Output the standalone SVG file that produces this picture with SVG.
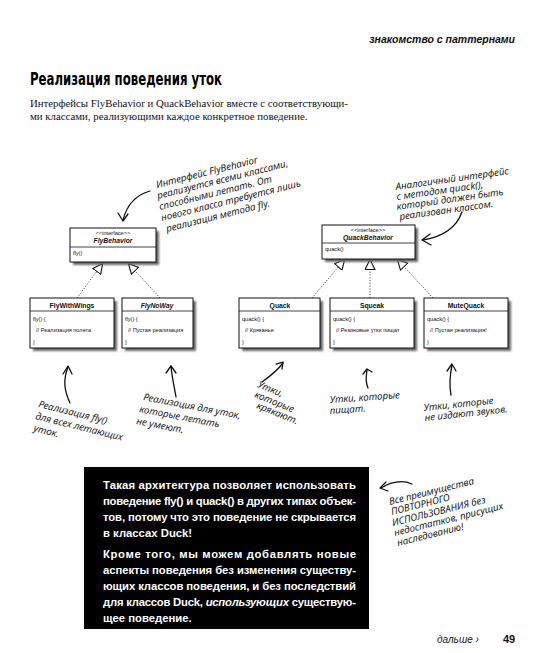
<svg xmlns="http://www.w3.org/2000/svg" width="544" height="653" viewBox="0 0 544 653">
<defs>
<style>
.box{fill:#fff;stroke:#111;stroke-width:1}
.shd{fill:#666;filter:url(#bl)}
.uml{font-family:"Liberation Sans",Arial,sans-serif;font-size:5.6px;fill:#111}
.ttl{font-family:"Liberation Sans",Arial,sans-serif;font-size:6.8px;font-weight:bold;fill:#111}
.ital{font-style:italic}
.hand{font-family:"Noto Sans",sans-serif;font-style:italic;font-size:9.7px;fill:#1a1a1a}
.conn{stroke:#222;stroke-width:0.8;stroke-dasharray:1.2 1.6;fill:none}
.ann{stroke:#111;stroke-width:1.3;fill:none;stroke-linecap:round;stroke-linejoin:round}
.wt{font-family:"Liberation Sans",Arial,sans-serif;font-size:11.3px;font-weight:bold;fill:#fff}
.intro{font-family:"Liberation Serif","DejaVu Serif",serif;font-size:10.8px;fill:#111}
.ttlmain{font-family:"DejaVu Sans",sans-serif;font-size:17px;font-weight:bold;fill:#000}
</style>
<filter id="bl" x="-20%" y="-20%" width="140%" height="140%"><feGaussianBlur stdDeviation="1"/></filter>
<marker id="tri" markerUnits="userSpaceOnUse" markerWidth="11" markerHeight="11" viewBox="0 0 10 10" refX="10" refY="5" orient="auto">
<path d="M0.5,0.5 L9.5,5 L0.5,9.5 z" fill="#fff" stroke="#111" stroke-width="1"/>
</marker>
</defs>
<rect width="544" height="653" fill="#fff"/>

<g id="header">
<text x="515" y="43" text-anchor="end" font-family="'Liberation Sans',Arial,sans-serif" font-size="10.5" font-weight="bold" font-style="italic" fill="#111">знакомство с паттернами</text>
<text class="ttlmain" x="30" y="85" textLength="192" lengthAdjust="spacingAndGlyphs">Реализация поведения уток</text>
<text class="intro"><tspan x="30" y="107">Интерфейсы FlyBehavior и QuackBehavior вместе с соответствующи-</tspan><tspan x="30" y="120">ми классами, реализующими каждое конкретное поведение.</tspan></text>
</g>

<g id="connectors">
<path class="conn" d="M77,298 L103,263" marker-end="url(#tri)"/>
<path class="conn" d="M160,298 L128,263" marker-end="url(#tri)"/>
<path class="conn" d="M312,298 L345,259" marker-end="url(#tri)"/>
<path class="conn" d="M370,298 L370,259" marker-end="url(#tri)"/>
<path class="conn" d="M433,298 L397,259" marker-end="url(#tri)"/>
</g>

<g id="FlyBehavior">
<rect class="shd" x="73" y="231" width="86" height="34"/>
<rect class="box" x="70" y="228" width="86" height="34"/>
<line x1="70" y1="247" x2="156" y2="247" stroke="#111" stroke-width="0.8"/>
<text class="uml" x="113" y="235" text-anchor="middle">&lt;&lt;interface&gt;&gt;</text>
<text class="ttl ital" x="113" y="243" text-anchor="middle">FlyBehavior</text>
<text class="uml" x="73" y="255">fly()</text>
</g>

<g id="QuackBehavior">
<rect class="shd" x="325" y="228" width="93" height="34"/>
<rect class="box" x="322" y="225" width="93" height="34"/>
<line x1="322" y1="243" x2="415" y2="243" stroke="#111" stroke-width="0.8"/>
<text class="uml" x="368" y="232" text-anchor="middle">&lt;&lt;interface&gt;&gt;</text>
<text class="ttl ital" x="368" y="240" text-anchor="middle">QuackBehavior</text>
<text class="uml" x="325" y="251">quack()</text>
</g>

<g id="FlyWithWings">
<rect class="shd" x="33" y="301" width="84" height="50"/>
<rect class="box" x="30" y="298" width="84" height="50"/>
<line x1="30" y1="311" x2="114" y2="311" stroke="#111" stroke-width="0.8"/>
<text class="ttl" x="72" y="307.5" text-anchor="middle">FlyWithWings</text>
<text class="uml" x="33" y="321">fly() {</text>
<text class="uml" x="36" y="332">// Реализация полета</text>
<text class="uml" x="33" y="344">}</text>
</g>

<g id="FlyNoWay">
<rect class="shd" x="125" y="301" width="71" height="50"/>
<rect class="box" x="122" y="298" width="71" height="50"/>
<line x1="122" y1="311" x2="193" y2="311" stroke="#111" stroke-width="0.8"/>
<text class="ttl ital" x="157" y="307.5" text-anchor="middle">FlyNoWay</text>
<text class="uml" x="125" y="321">fly() {</text>
<text class="uml" x="128" y="332">// Пустая реализация</text>
<text class="uml" x="125" y="344">}</text>
</g>

<g id="Quack">
<rect class="shd" x="242" y="301" width="81" height="50"/>
<rect class="box" x="239" y="298" width="81" height="50"/>
<line x1="239" y1="311" x2="320" y2="311" stroke="#111" stroke-width="0.8"/>
<text class="ttl" x="280" y="307.5" text-anchor="middle">Quack</text>
<text class="uml" x="242" y="321">quack() {</text>
<text class="uml" x="245" y="332">// Кряканье</text>
<text class="uml" x="242" y="344">}</text>
</g>

<g id="Squeak">
<rect class="shd" x="333" y="301" width="84" height="50"/>
<rect class="box" x="330" y="298" width="84" height="50"/>
<line x1="330" y1="311" x2="414" y2="311" stroke="#111" stroke-width="0.8"/>
<text class="ttl" x="372" y="307.5" text-anchor="middle">Squeak</text>
<text class="uml" x="333" y="321">quack() {</text>
<text class="uml" x="336" y="332">// Резиновые утки пищат</text>
<text class="uml" x="333" y="344">}</text>
</g>

<g id="MuteQuack">
<rect class="shd" x="427" y="301" width="84" height="50"/>
<rect class="box" x="424" y="298" width="84" height="50"/>
<line x1="424" y1="311" x2="508" y2="311" stroke="#111" stroke-width="0.8"/>
<text class="ttl" x="466" y="307.5" text-anchor="middle">MuteQuack</text>
<text class="uml" x="427" y="321">quack() {</text>
<text class="uml" x="430" y="332">// Пустая реализация!</text>
<text class="uml" x="427" y="344">}</text>
</g>

<g id="note-fly">
<text class="hand" x="157" y="188" transform="rotate(-14 157 188)">Интерфейс FlyBehavior</text>
<text class="hand" x="158" y="199" transform="rotate(-14 158 199)">реализуется всеми классами,</text>
<text class="hand" x="160" y="210" transform="rotate(-14 160 210)">способными летать. От</text>
<text class="hand" x="162" y="221" transform="rotate(-14 162 221)">нового класса требуется лишь</text>
<text class="hand" x="167" y="232" transform="rotate(-14 167 232)">реализация метода fly.</text>
<path class="ann" d="M150,191 C136,195 127,204 123,220"/>
<path class="ann" d="M118,213 L123,221 L128,214"/>
</g>

<g id="note-quack">
<text class="hand" x="396" y="190" transform="rotate(-8 396 190)">Аналогичный интерфейс</text>
<text class="hand" x="397" y="200" transform="rotate(-8 397 200)">с методом quack(),</text>
<text class="hand" x="397" y="210" transform="rotate(-8 397 210)">который должен быть</text>
<text class="hand" x="400" y="220" transform="rotate(-8 400 220)">реализован классом.</text>
<path class="ann" d="M462,212 C456,229 441,237 423,240"/>
<path class="ann" d="M430,234 L422,240 L431,245"/>
</g>

<g id="note-flywithwings">
<path class="ann" d="M70,403 C64,390 63,380 68,367"/>
<path class="ann" d="M63,374 L68,366 L72,374"/>
<text class="hand" x="38" y="407" transform="rotate(14 38 407)">Реализация fly()</text>
<text class="hand" x="35" y="419" transform="rotate(14 35 419)">для всех летающих</text>
<text class="hand" x="33" y="431" transform="rotate(14 33 431)">уток.</text>
</g>

<g id="note-flynoway">
<path class="ann" d="M176,397 C174,385 172,378 171,366"/>
<path class="ann" d="M166,373 L171,366 L176,373"/>
<text class="hand" x="143" y="400" transform="rotate(11 143 400)">Реализация для уток,</text>
<text class="hand" x="139" y="412" transform="rotate(11 139 412)">которые летать</text>
<text class="hand" x="136" y="424" transform="rotate(11 136 424)">не умеют.</text>
</g>

<g id="note-quack-cls">
<path class="ann" d="M262,382 C269,377 277,371 283,363"/>
<path class="ann" d="M276,364 L283,362 L282,369"/>
<text class="hand" x="257" y="387" transform="rotate(22 257 387)">Утки,</text>
<text class="hand" x="254" y="397" transform="rotate(22 254 397)">которые</text>
<text class="hand" x="256" y="408" transform="rotate(22 256 408)">крякают.</text>
</g>

<g id="note-squeak">
<path class="ann" d="M368,388 C365,382 366,376 367,370"/>
<path class="ann" d="M363,374 L367,369 L372,372"/>
<text class="hand" x="330" y="403" transform="rotate(-4 330 403)">Утки, которые</text>
<text class="hand" x="330" y="414" transform="rotate(-4 330 414)">пищат.</text>
</g>

<g id="note-mute">
<path class="ann" d="M451,395 C449,385 450,375 452,365"/>
<path class="ann" d="M447,371 L452,364 L456,371"/>
<text class="hand" x="424" y="411" transform="rotate(-6 424 411)">Утки, которые</text>
<text class="hand" x="425" y="421" transform="rotate(-6 425 421)">не издают звуков.</text>
</g>

<g id="blackbox">
<rect x="84" y="467" width="285" height="162" fill="#000"/>
<text class="wt" x="103" y="489" textLength="253" lengthAdjust="spacing">Такая архитектура позволяет использовать</text>
<text class="wt" x="103" y="505" textLength="253" lengthAdjust="spacing">поведение fly() и quack() в других типах объек-</text>
<text class="wt" x="103" y="521" textLength="253" lengthAdjust="spacing">тов, потому что это поведение не скрывается</text>
<text class="wt" x="103" y="537">в классах Duck!</text>
<text class="wt" x="103" y="558" textLength="253" lengthAdjust="spacing">Кроме того, мы можем добавлять новые</text>
<text class="wt" x="103" y="574" textLength="253" lengthAdjust="spacing">аспекты поведения без изменения существу-</text>
<text class="wt" x="103" y="590" textLength="253" lengthAdjust="spacing">ющих классов поведения, и без последствий</text>
<text class="wt" x="103" y="606" textLength="253" lengthAdjust="spacing">для классов Duck, <tspan font-style="italic">использующих</tspan> существую-</text>
<text class="wt" x="103" y="622">щее поведение.</text>
</g>

<g id="note-reuse">
<path class="ann" d="M412,484 C401,479 391,482 381,488"/>
<path class="ann" d="M386,482 L380,488 L388,491"/>
<text class="hand" x="390" y="505" transform="rotate(-14 390 505)">Все преимущества</text>
<text class="hand" x="392" y="515" transform="rotate(-14 392 515)">ПОВТОРНОГО</text>
<text class="hand" x="393" y="526" transform="rotate(-14 393 526)">ИСПОЛЬЗОВАНИЯ без</text>
<text class="hand" x="395" y="536" transform="rotate(-14 395 536)">недостатков, присущих</text>
<text class="hand" x="398" y="546" transform="rotate(-14 398 546)">наследованию!</text>
</g>

<g id="footer">
<text x="437" y="643" font-family="'Liberation Sans',Arial,sans-serif" font-size="10" font-style="italic" fill="#222">дальше ›</text>
<text x="503" y="643" font-family="'Liberation Sans',Arial,sans-serif" font-size="11" font-weight="bold" fill="#111">49</text>
</g>
</svg>
